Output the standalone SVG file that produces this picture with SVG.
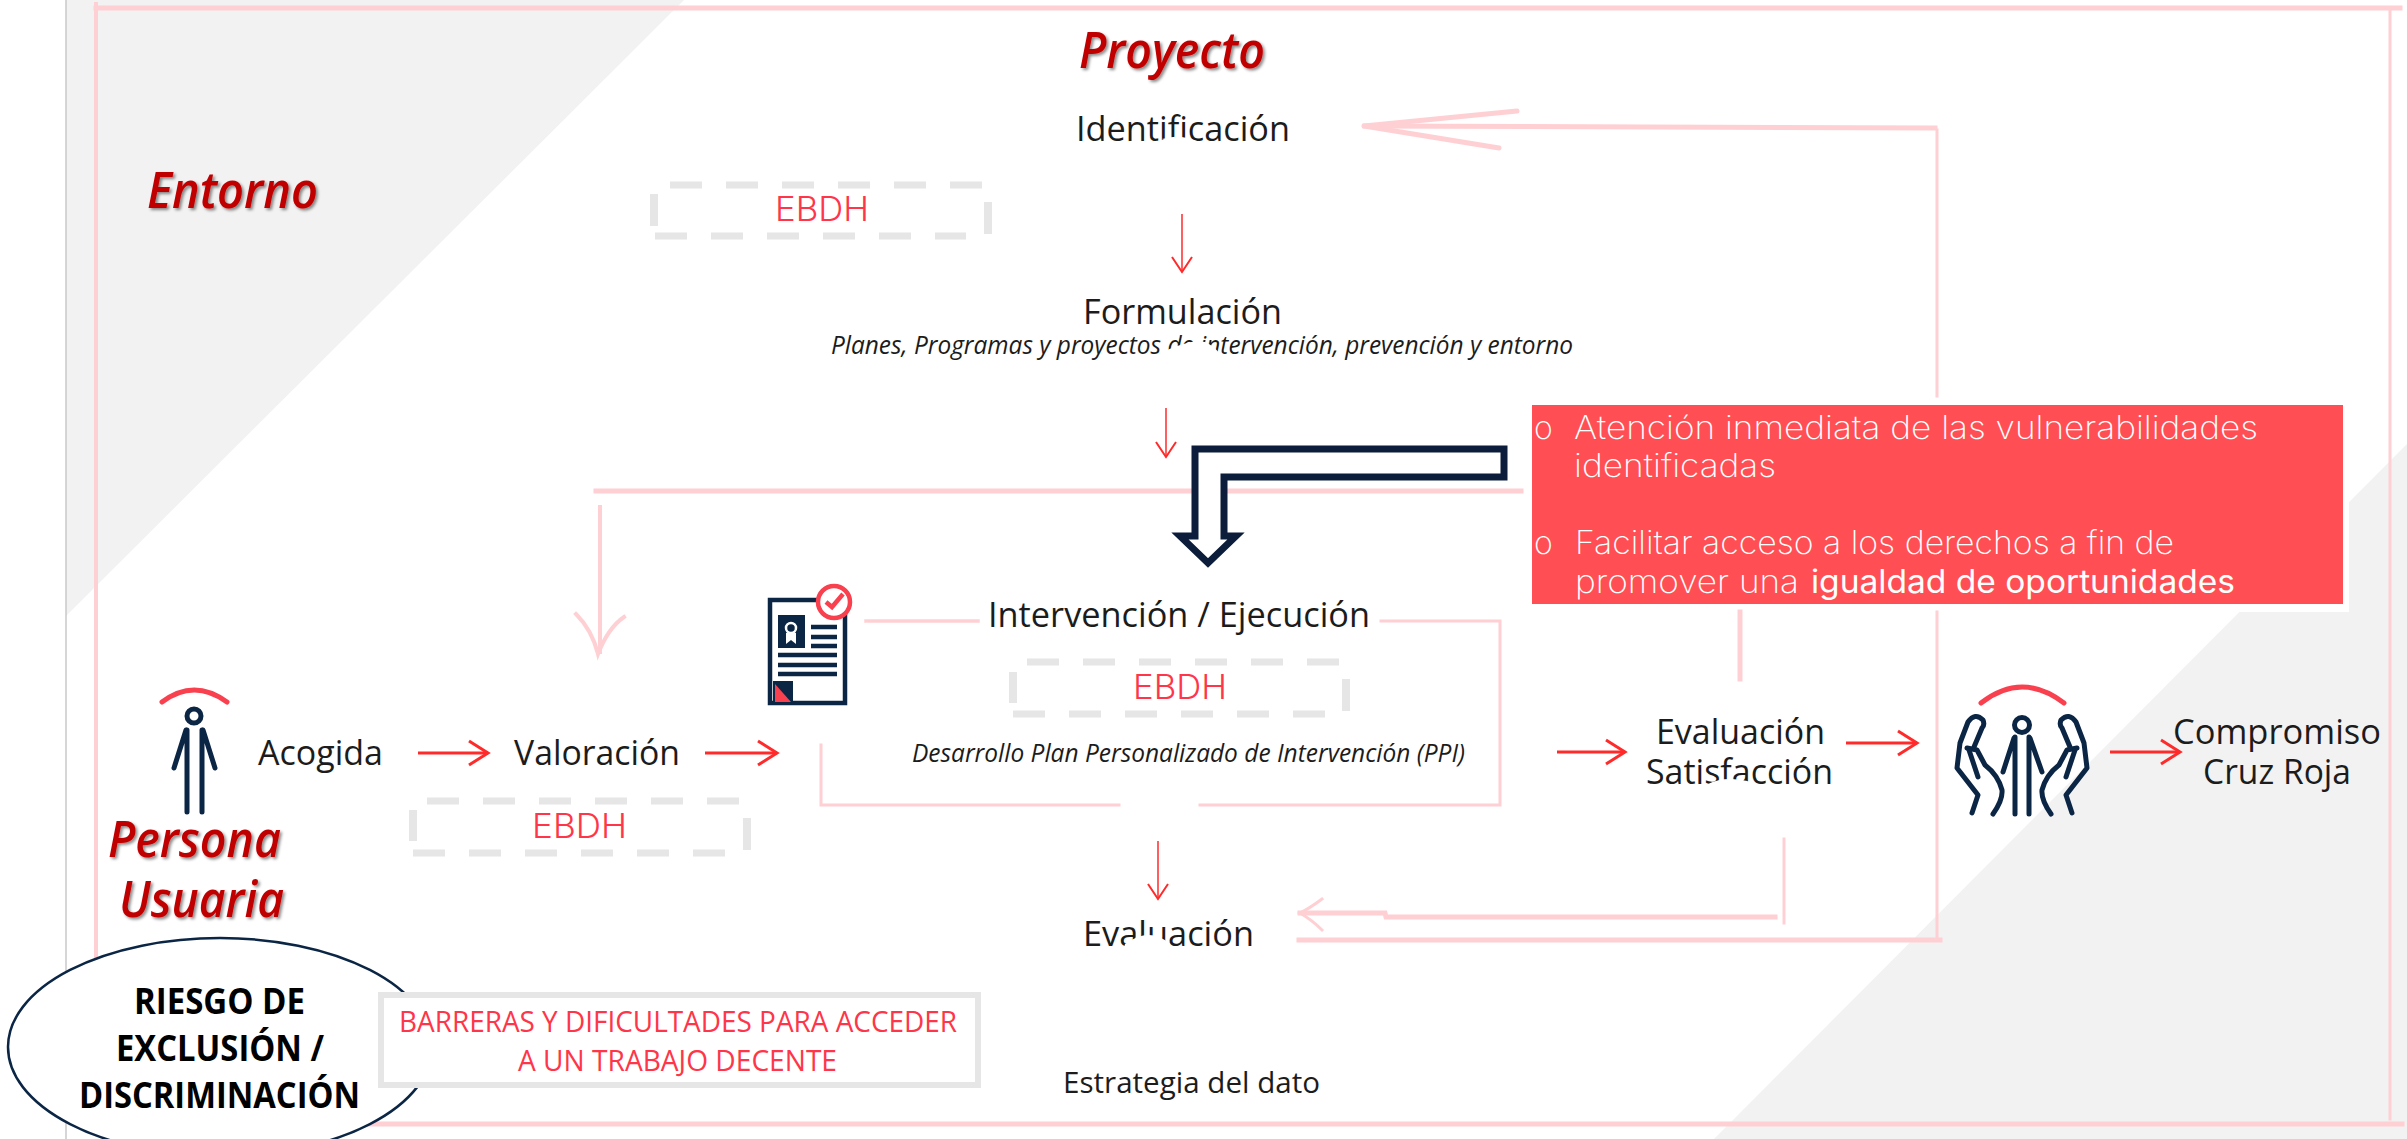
<svg xmlns="http://www.w3.org/2000/svg" width="2407" height="1139" viewBox="0 0 2407 1139">
<style>
text{font-family:"Open Sans","Liberation Sans",sans-serif;fill:#1c1c1c}
.main{font-size:35px}
.sub{font-size:26px;font-style:italic;font-weight:500}
.title{font-size:50px;font-style:italic;font-weight:600;fill:#c00000;filter:url(#shadow)}
.ebdh{font-family:Inter,"Open Sans",sans-serif;font-size:34px;font-weight:300;fill:#ff3549}
.box{font-family:Inter,"Open Sans",sans-serif;font-size:32px;font-weight:200;fill:#fff}
.risk{font-size:36px;font-weight:700;fill:#000}
.barrier{font-size:30px;fill:#ff3549}
.pink{fill:none;stroke:#ffd0d3;stroke-linecap:square;stroke-linejoin:miter}
.red{fill:none;stroke:#ff2a2a}
.dash{fill:none;stroke:#e6e6e6;stroke-width:7;stroke-dasharray:32 24}
.dashv{fill:none;stroke:#e6e6e6;stroke-width:8}
.navy{fill:none;stroke:#0b2545;stroke-width:5;stroke-linecap:round;stroke-linejoin:round}
.navyfill{fill:#0b2545}
.arc{fill:none;stroke:#f9404f;stroke-width:5;stroke-linecap:round}
</style>
<defs>
<filter id="shadow" x="-10%" y="-10%" width="125%" height="130%"><feDropShadow dx="2" dy="2" stdDeviation="1.5" flood-color="#000" flood-opacity=".45"/></filter>
<marker id="head" markerUnits="userSpaceOnUse" markerWidth="24" markerHeight="30" refX="21" refY="14" orient="auto"><path d="M2 2 L21 14 L2 26" fill="none" stroke="#ff2a2a" stroke-width="3"/></marker>
<marker id="headThin" markerUnits="userSpaceOnUse" markerWidth="20" markerHeight="26" refX="17" refY="12" orient="auto"><path d="M2 2 L17 12 L2 22" fill="none" stroke="#ff2a2a" stroke-width="2"/></marker>
<g id="hand"><path class="navy" d="M1972 813 L1978 795 L1957 768 L1960 743 L1968 722 Q1975 712 1983 720 Q1985 725 1982 728 L1974 747"/><path class="navy" d="M1967 748 L1977 750 L1985 765 Q1998 775 2002 790 Q2003 800 1993 814"/><path class="navy" d="M1969 750 L1978 777"/></g>
</defs>
<rect width="2407" height="1139" fill="#fff"/>
<g id="background">
<path d="M66 0H684L66 616Z" fill="#f2f2f2"/>
<path d="M2407 444V1139H1714Z" fill="#f2f2f2"/>
<path d="M66 0V1139" stroke="#c9c9c9" stroke-width="1.5"/>
</g>
<g id="frame" class="pink">
<path d="M96 8H2400" stroke-width="5"/>
<path d="M96 4V1090" stroke-width="4"/>
<path d="M2390 8V1119" stroke-width="3"/>
<path d="M370 1124H2402" stroke-width="5"/>
</g>
<rect x="1523" y="396" width="826" height="216" fill="#fff"/>
<g id="connectors">
<g class="pink">
<path d="M1935 128 L1365 126" stroke-width="5"/>
<path d="M1517 111 L1364 126 M1364 126 L1499 148" stroke-width="5" stroke-linecap="round"/>
<path d="M1937 130V396 M1937 612V940" stroke-width="3"/>
<path d="M1940 940H1299" stroke-width="5"/>
<path d="M596 491H1521" stroke-width="5"/>
<path d="M600 507V652" stroke-width="4"/>
<path d="M576 614 Q592 630 598 654 Q608 628 624 617" stroke-width="4"/>
<path d="M1740 612V679" stroke-width="5"/>
<path d="M866 621H978" stroke-width="3.5"/>
<path d="M1381 621H1500V805H1200 M1119 805H821V745" stroke-width="3"/>
<path d="M1784 839V923" stroke-width="3"/>
<path d="M1775 917H1386L1385 913H1300" stroke-width="5"/>
<path d="M1322 899 Q1310 908 1300 913 Q1312 920 1322 930" stroke-width="3"/>
</g>
<g class="red">
<path d="M1182 214V272" stroke-width="1.5" marker-end="url(#headThin)"/>
<path d="M1166 408V457" stroke-width="1.5" marker-end="url(#headThin)"/>
<path d="M1158 841V899" stroke-width="1.5" marker-end="url(#headThin)"/>
<path d="M418 753H488" stroke-width="3" marker-end="url(#head)"/>
<path d="M705 753H777" stroke-width="3" marker-end="url(#head)"/>
<path d="M1557 752H1625" stroke-width="3" marker-end="url(#head)"/>
<path d="M1846 743H1917" stroke-width="3" marker-end="url(#head)"/>
<path d="M2110 752H2180" stroke-width="3" marker-end="url(#head)"/>
</g>
<path id="big-arrow" d="M1195 449H1504V477H1224V536H1236L1208 563L1180 536H1195Z" fill="#fff" stroke="#0b1d3a" stroke-width="7"/>
</g>
<g id="entorno"><text class="title" x="147" y="208" textLength="171" lengthAdjust="spacingAndGlyphs">Entorno</text></g>
<g id="proyecto"><text class="title" x="1079" y="68" textLength="186" lengthAdjust="spacingAndGlyphs">Proyecto</text></g>
<g id="identificacion"><text class="main" x="1076" y="141" textLength="214" lengthAdjust="spacingAndGlyphs">Identificación</text></g>
<g id="ebdh-1">
<path class="dash" d="M670 185H982"/><path class="dash" d="M655 236H966"/>
<path class="dashv" d="M654 194V226M988 202V234"/>
<text class="ebdh" x="775" y="221" textLength="94" lengthAdjust="spacingAndGlyphs">EBDH</text>
</g>
<g id="formulacion">
<text class="main" x="1083" y="324" textLength="199" lengthAdjust="spacingAndGlyphs">Formulación</text>
<text class="sub" x="831" y="354" textLength="742" lengthAdjust="spacingAndGlyphs">Planes, Programas y proyectos de intervención, prevención y entorno</text>
</g>
<g id="red-box">
<rect x="1532" y="405" width="811" height="199" fill="#ff4f54"/>
<text class="box" x="1534" y="439">o</text>
<text class="box" x="1574" y="439" textLength="684" lengthAdjust="spacingAndGlyphs">Atención inmediata de las vulnerabilidades</text>
<text class="box" x="1574" y="477" textLength="202" lengthAdjust="spacingAndGlyphs">identificadas</text>
<text class="box" x="1534" y="554">o</text>
<text class="box" x="1575" y="554" textLength="599" lengthAdjust="spacingAndGlyphs">Facilitar acceso a los derechos a fin de</text>
<text class="box" x="1575" y="593" textLength="224" lengthAdjust="spacingAndGlyphs">promover una</text>
<text class="box" x="1811" y="593" textLength="424" lengthAdjust="spacingAndGlyphs" style="font-weight:400">igualdad de oportunidades</text>
</g>
<g id="intervencion">
<text class="main" x="988" y="627" textLength="382" lengthAdjust="spacingAndGlyphs">Intervención / Ejecución</text>
<path class="dash" d="M1027 662H1339"/><path class="dash" d="M1013 714H1325"/>
<path class="dashv" d="M1013 672V703M1346 679V711"/>
<text class="ebdh" x="1133" y="699" textLength="94" lengthAdjust="spacingAndGlyphs">EBDH</text>
<text class="sub" x="912" y="762" textLength="553" lengthAdjust="spacingAndGlyphs">Desarrollo Plan Personalizado de Intervención (PPI)</text>
</g>
<g id="doc-icon">
<rect x="770" y="600" width="75" height="103" fill="#fff" stroke="#0b2545" stroke-width="4.5"/>
<rect x="778" y="615" width="27" height="33" class="navyfill"/>
<circle cx="791" cy="628" r="5" fill="none" stroke="#fff" stroke-width="2.5"/>
<path d="M786 633V644L791 640L796 644V633" fill="#fff"/>
<path d="M811 627H837M811 637H837M811 646H837M778 655H837M778 665H837M778 674H837" stroke="#0b2545" stroke-width="4.5" fill="none"/>
<rect x="773" y="681" width="20" height="21" class="navyfill"/>
<path d="M775 684L791 702H775Z" fill="#f9404f"/>
<circle cx="834" cy="602" r="16" fill="#fff" stroke="#f9404f" stroke-width="4.5"/>
<path d="M826 602L832 607L843 594" fill="none" stroke="#f9404f" stroke-width="4.5"/>
</g>
<g id="persona-icon">
<path class="arc" d="M162 702Q194 678 227 702"/>
<circle class="navy" cx="194" cy="716" r="7"/>
<path class="navy" d="M187 730V812M202 730V812M186 730L174 768M203 730L215 768"/>
</g>
<g id="acogida"><text class="main" x="258" y="765" textLength="125" lengthAdjust="spacingAndGlyphs">Acogida</text></g>
<g id="valoracion">
<text class="main" x="514" y="765" textLength="166" lengthAdjust="spacingAndGlyphs">Valoración</text>
<path class="dash" d="M427 801H740"/><path class="dash" d="M413 853H725"/>
<path class="dashv" d="M413 810V841M747 818V850"/>
<text class="ebdh" x="532" y="838" textLength="95" lengthAdjust="spacingAndGlyphs">EBDH</text>
</g>
<g id="persona-usuaria">
<text class="title" x="108" y="857" textLength="173" lengthAdjust="spacingAndGlyphs">Persona</text>
<text class="title" x="119" y="917" textLength="165" lengthAdjust="spacingAndGlyphs">Usuaria</text>
</g>
<g id="evaluacion-satisfaccion">
<text class="main" x="1656" y="744" textLength="169" lengthAdjust="spacingAndGlyphs">Evaluación</text>
<text class="main" x="1646" y="784" textLength="187" lengthAdjust="spacingAndGlyphs">Satisfacción</text>
</g>
<g id="hands-icon">
<path class="arc" d="M1981 703Q2022 671 2064 703"/>
<circle class="navy" cx="2022" cy="725" r="7.5"/>
<path class="navy" d="M2015 737V814M2029 737V814M2014 738L2003 772M2030 738L2042 772"/>
<use href="#hand"/>
<use href="#hand" transform="translate(4044 0) scale(-1 1)"/>
</g>
<g id="compromiso">
<text class="main" x="2173" y="744" textLength="208" lengthAdjust="spacingAndGlyphs">Compromiso</text>
<text class="main" x="2203" y="784" textLength="148" lengthAdjust="spacingAndGlyphs">Cruz Roja</text>
</g>
<g id="evaluacion"><text class="main" x="1083" y="946" textLength="171" lengthAdjust="spacingAndGlyphs">Evaluación</text></g>
<g id="estrategia"><text class="main" style="font-size:30px" x="1063" y="1093" textLength="257" lengthAdjust="spacingAndGlyphs">Estrategia del dato</text></g>
<g id="riesgo">
<ellipse cx="220" cy="1047" rx="212" ry="109" fill="#fff" stroke="#0b2545" stroke-width="2.5"/>
<text class="risk" x="134" y="1014" textLength="171" lengthAdjust="spacingAndGlyphs">RIESGO DE</text>
<text class="risk" x="116" y="1061" textLength="208" lengthAdjust="spacingAndGlyphs">EXCLUSIÓN /</text>
<text class="risk" x="79" y="1108" textLength="281" lengthAdjust="spacingAndGlyphs">DISCRIMINACIÓN</text>
</g>
<g id="barreras">
<rect x="381" y="995" width="597" height="90" fill="#fff" stroke="#e6e6e6" stroke-width="6"/>
<text class="barrier" x="399" y="1032" textLength="558" lengthAdjust="spacingAndGlyphs">BARRERAS Y DIFICULTADES PARA ACCEDER</text>
<text class="barrier" x="518" y="1071" textLength="319" lengthAdjust="spacingAndGlyphs">A UN TRABAJO DECENTE</text>
</g>
<g id="text-blots" fill="#fff">
<path d="M1150 153L1157 143Q1172 131 1200 142V153Z"/>
<path d="M1163 361L1165 351Q1190 339 1205 342Q1213 345 1220 354V363Z"/>
<path d="M1706 796L1708 784Q1730 773 1763 786V796Z"/>
<path d="M1122 956L1125 944Q1150 926 1170 944L1172 956Z"/>
</g>
</svg>
